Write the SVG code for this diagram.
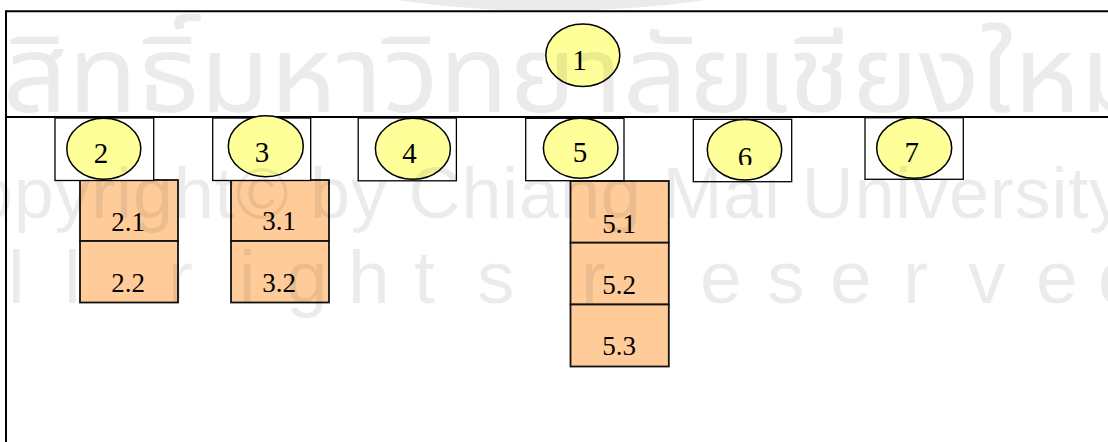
<svg xmlns="http://www.w3.org/2000/svg" width="1108" height="442" viewBox="0 0 1108 442">
  <defs>
    <style>
      .frame { stroke: #000; stroke-width: 2; fill: none; }
      .box { fill: #fff; stroke: #000; stroke-width: 1.3; }
      .oval { fill: #ffff99; stroke: #000; stroke-width: 1.5; }
      .sub { fill: #ffcc99; stroke: #111; stroke-width: 1.8; }
      .num { font-family: "Liberation Serif", "Times New Roman", serif; font-size: 29px; fill: #000; text-anchor: middle; }
      .subt { font-family: "Liberation Serif", "Times New Roman", serif; font-size: 27px; fill: #000; text-anchor: middle; }
      .wm { fill: #000; fill-opacity: 0.08; }
      .wmlat { font-family: "Liberation Sans", Arial, sans-serif; }
    </style>
    <clipPath id="clip6"><rect x="700" y="120" width="90" height="45"/></clipPath>
  </defs>
  <rect width="1108" height="442" fill="#fff"/>

  <g id="connectors">
    <line class="frame" x1="6" y1="11.2" x2="1108" y2="11.2"/>
    <line class="frame" x1="6" y1="10.2" x2="6" y2="442"/>
    <line class="frame" x1="6" y1="116.9" x2="1108" y2="116.9" stroke-width="1.7"/>
  </g>

  <g id="node-2-1"><rect class="sub" x="80" y="180" width="98" height="61"/><text class="subt" x="128" y="230.7">2.1</text></g>
  <g id="node-2-2"><rect class="sub" x="80" y="241" width="98" height="61.5"/><text class="subt" x="128" y="291.7">2.2</text></g>
  <g id="node-3-1"><rect class="sub" x="231" y="180" width="98" height="61"/><text class="subt" x="279" y="230.2">3.1</text></g>
  <g id="node-3-2"><rect class="sub" x="231" y="241" width="98" height="61.5"/><text class="subt" x="279" y="291.7">3.2</text></g>
  <g id="node-5-1"><rect class="sub" x="570.5" y="181" width="98.3" height="61.7"/><text class="subt" x="619" y="232.7">5.1</text></g>
  <g id="node-5-2"><rect class="sub" x="570.5" y="242.7" width="98.3" height="61.8"/><text class="subt" x="619" y="294">5.2</text></g>
  <g id="node-5-3"><rect class="sub" x="570.5" y="304.5" width="98.3" height="62"/><text class="subt" x="619" y="355">5.3</text></g>

  <g id="node-1"><ellipse class="oval" cx="582.8" cy="55.3" rx="37" ry="31.3"/><text class="num" x="579.5" y="70">1</text></g>
  <g id="node-2"><rect class="box" x="55" y="118" width="98.7" height="62.5"/><ellipse class="oval" cx="103.8" cy="148.8" rx="37" ry="30.5"/><text class="num" x="101" y="163.3">2</text></g>
  <g id="node-3"><rect class="box" x="212.7" y="118" width="98" height="62.5"/><ellipse class="oval" cx="265.8" cy="146.2" rx="37.5" ry="30.5"/><text class="num" x="262" y="161.7">3</text></g>
  <g id="node-4"><rect class="box" x="358.2" y="118" width="98.2" height="62.8"/><ellipse class="oval" cx="412.9" cy="148.8" rx="37.5" ry="30.5"/><text class="num" x="409.5" y="163.3">4</text></g>
  <g id="node-5"><rect class="box" x="525.7" y="118.3" width="98.3" height="62.4"/><ellipse class="oval" cx="580.7" cy="148.3" rx="37.3" ry="30"/><text class="num" x="580" y="161.7">5</text></g>
  <g id="node-6"><rect class="box" x="693.3" y="119.3" width="98.4" height="62.4"/><ellipse class="oval" cx="744.5" cy="149.7" rx="37.2" ry="30.3"/><text class="num" x="745" y="166.7" clip-path="url(#clip6)">6</text></g>
  <g id="node-7"><rect class="box" x="865" y="117.7" width="98.3" height="61.6"/><ellipse class="oval" cx="914.2" cy="148" rx="37.5" ry="30.3"/><text class="num" x="911.7" y="161.7">7</text></g>

  <g id="watermark" class="wm">
    <path d="M396,0 Q552,22 707,0 Z"/>
    <text x="-125" y="112" font-size="108" textLength="1275" lengthAdjust="spacingAndGlyphs" font-family="'Noto Sans Thai','Noto Serif Thai','Noto Looped Thai',Loma,Garuda,'Tlwg Typo','DejaVu Sans',sans-serif">ลิขสิทธิ์มหาวิทยาลัยเชียงใหม่</text>
    <text class="wmlat" x="-80" y="218" font-size="72" textLength="1205" lengthAdjust="spacing">Copyright© by Chiang Mai University</text>
    <text class="wmlat" y="303" font-size="75" x="-55 8 64 100 168 239 286 348 414 477 530 581 700 767 830 903 968 1036 1098">All rights reserved</text>
  </g>
</svg>
